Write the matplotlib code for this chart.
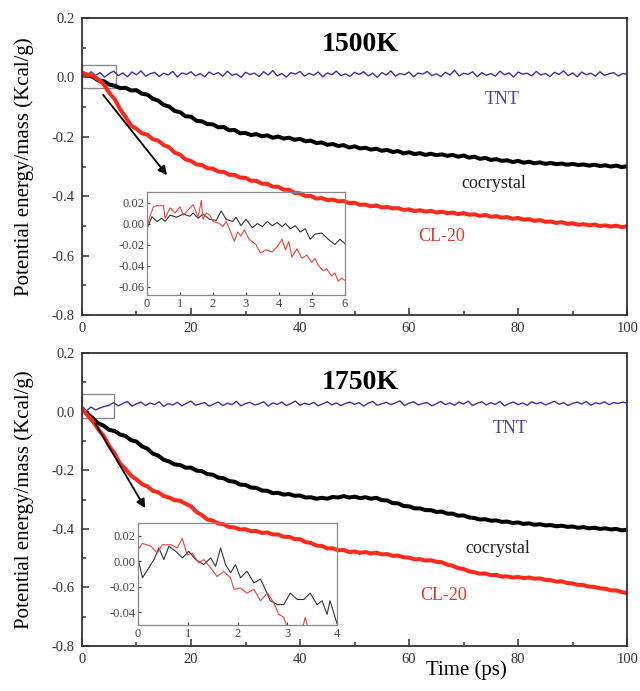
import numpy as np
import matplotlib
matplotlib.use('Agg')
import matplotlib.pyplot as plt
from matplotlib.patches import Rectangle

plt.rcParams['font.family'] = ['Liberation Serif', 'DejaVu Serif']

# ---- 1500 K, main curves (Kcal/g vs ps) ----
tnt_1500 = [0.014, 0.004, 0.019, 0.007, 0.016, 0.001, 0.013, 0.021, 0.006, 0.015,
            0.002, 0.018, 0.009, 0.022, 0.004, 0.012, 0.017, 0.003, 0.014, 0.008,
            0.020, 0.001, 0.015, 0.010, 0.019, 0.005, 0.013, 0.002, 0.018, 0.009,
            0.016, 0.004, 0.021, 0.007, 0.012, 0.000, 0.017, 0.010, 0.014, 0.003,
            0.019, 0.008, 0.023, 0.005, 0.013, 0.001, 0.016, 0.011, 0.020, 0.004,
            0.014, 0.007, 0.018, 0.002, 0.015, 0.009, 0.021, 0.006, 0.012, 0.003,
            0.017, 0.010, 0.019, 0.005, 0.014, 0.000, 0.016, 0.008, 0.022, 0.004,
            0.013, 0.009, 0.018, 0.002, 0.015, 0.011, 0.020, 0.006, 0.012, 0.003,
            0.017, 0.008, 0.024, 0.005, 0.014, 0.010, 0.019, 0.002, 0.016, 0.007,
            0.013, 0.004, 0.021, 0.009, 0.015, 0.001, 0.018, 0.011, 0.014, 0.005,
            0.020, 0.008, 0.013, 0.003, 0.017, 0.010, 0.022, 0.006, 0.015, 0.002,
            0.018, 0.009, 0.014, 0.004, 0.019, 0.007, 0.012, 0.016, 0.005, 0.013,
            0.010]
cocrystal_1500 = [0.016, 0.007, 0.002, -0.010, -0.013, -0.024, -0.028, -0.036, -0.035, -0.044,
                  -0.043, -0.055, -0.058, -0.072, -0.078, -0.093, -0.098, -0.113, -0.117, -0.131,
                  -0.132, -0.146, -0.148, -0.157, -0.158, -0.168, -0.167, -0.178, -0.177, -0.188,
                  -0.187, -0.194, -0.191, -0.198, -0.195, -0.203, -0.199, -0.206, -0.203, -0.210,
                  -0.207, -0.215, -0.213, -0.221, -0.219, -0.227, -0.224, -0.231, -0.228, -0.236,
                  -0.232, -0.239, -0.237, -0.243, -0.240, -0.247, -0.244, -0.251, -0.248, -0.256,
                  -0.252, -0.258, -0.255, -0.261, -0.257, -0.262, -0.259, -0.264, -0.261, -0.267,
                  -0.263, -0.270, -0.267, -0.274, -0.271, -0.278, -0.275, -0.281, -0.279, -0.285,
                  -0.281, -0.287, -0.284, -0.289, -0.286, -0.291, -0.288, -0.292, -0.290, -0.294,
                  -0.291, -0.295, -0.293, -0.297, -0.294, -0.298, -0.296, -0.300, -0.297, -0.302,
                  -0.299]
cl20_1500 = [0.016, 0.008, 0.006, -0.007, -0.023, -0.052, -0.073, -0.107, -0.133, -0.162,
             -0.173, -0.188, -0.193, -0.208, -0.213, -0.228, -0.235, -0.253, -0.260, -0.276,
             -0.281, -0.293, -0.295, -0.306, -0.307, -0.317, -0.318, -0.328, -0.328, -0.337,
             -0.338, -0.348, -0.348, -0.358, -0.358, -0.368, -0.368, -0.378, -0.378, -0.389,
             -0.390, -0.400, -0.399, -0.408, -0.406, -0.413, -0.411, -0.417, -0.416, -0.423,
             -0.422, -0.429, -0.428, -0.434, -0.431, -0.438, -0.436, -0.441, -0.440, -0.446,
             -0.444, -0.450, -0.447, -0.452, -0.449, -0.455, -0.452, -0.457, -0.455, -0.460,
             -0.457, -0.462, -0.461, -0.466, -0.463, -0.469, -0.467, -0.472, -0.470, -0.476,
             -0.473, -0.479, -0.477, -0.483, -0.480, -0.486, -0.485, -0.490, -0.487, -0.493,
             -0.491, -0.496, -0.494, -0.498, -0.495, -0.500, -0.498, -0.502, -0.499, -0.504,
             -0.501]

# ---- 1750 K, main curves ----
tnt_1750 = [0.010, 0.003, 0.016, 0.006, 0.013, 0.018, 0.022, 0.031, 0.020, 0.028,
            0.035, 0.019, 0.027, 0.033, 0.021, 0.030, 0.024, 0.034, 0.018, 0.028,
            0.023, 0.032, 0.020, 0.029, 0.036, 0.022, 0.027, 0.031, 0.019, 0.026,
            0.033, 0.021, 0.029, 0.024, 0.035, 0.020, 0.028, 0.032, 0.023, 0.027,
            0.034, 0.019, 0.030, 0.025, 0.033, 0.021, 0.028, 0.036, 0.022, 0.029,
            0.024, 0.032, 0.020, 0.027, 0.034, 0.023, 0.030, 0.021, 0.028, 0.033,
            0.025, 0.031, 0.019, 0.029, 0.035, 0.022, 0.027, 0.032, 0.024, 0.030,
            0.037, 0.021, 0.029, 0.034, 0.023, 0.028, 0.031, 0.020, 0.027, 0.035,
            0.024, 0.030, 0.022, 0.033, 0.026, 0.036, 0.021, 0.029, 0.034, 0.023,
            0.031, 0.025, 0.035, 0.020, 0.028, 0.033, 0.024, 0.030, 0.022, 0.034,
            0.027, 0.032, 0.023, 0.029, 0.036, 0.025, 0.031, 0.021, 0.028, 0.033,
            0.026, 0.035, 0.022, 0.030, 0.027, 0.034, 0.024, 0.031, 0.028, 0.033,
            0.029]
cocrystal_1750 = [0.012, -0.006, -0.023, -0.040, -0.048, -0.062, -0.066, -0.078, -0.083, -0.097,
                  -0.102, -0.118, -0.126, -0.143, -0.150, -0.164, -0.170, -0.180, -0.182, -0.191,
                  -0.191, -0.201, -0.203, -0.213, -0.215, -0.225, -0.227, -0.237, -0.239, -0.249,
                  -0.250, -0.259, -0.260, -0.269, -0.270, -0.278, -0.277, -0.283, -0.281, -0.287,
                  -0.286, -0.293, -0.292, -0.297, -0.294, -0.297, -0.291, -0.293, -0.288, -0.293,
                  -0.290, -0.295, -0.292, -0.297, -0.294, -0.302, -0.303, -0.312, -0.313, -0.322,
                  -0.323, -0.330, -0.330, -0.336, -0.336, -0.342, -0.341, -0.348, -0.348, -0.355,
                  -0.354, -0.361, -0.363, -0.368, -0.367, -0.372, -0.371, -0.376, -0.375, -0.380,
                  -0.378, -0.383, -0.381, -0.386, -0.384, -0.388, -0.387, -0.391, -0.389, -0.393,
                  -0.392, -0.396, -0.394, -0.398, -0.396, -0.400, -0.398, -0.402, -0.400, -0.405,
                  -0.403]
cl20_1750 = [0.011, -0.012, -0.033, -0.060, -0.083, -0.117, -0.143, -0.177, -0.196, -0.218,
             -0.231, -0.247, -0.255, -0.270, -0.275, -0.288, -0.293, -0.302, -0.304, -0.314,
             -0.323, -0.342, -0.353, -0.368, -0.372, -0.382, -0.384, -0.394, -0.395, -0.402,
             -0.401, -0.408, -0.407, -0.414, -0.412, -0.419, -0.419, -0.427, -0.427, -0.435,
             -0.435, -0.445, -0.448, -0.457, -0.458, -0.467, -0.466, -0.473, -0.472, -0.479,
             -0.477, -0.482, -0.479, -0.484, -0.481, -0.487, -0.486, -0.492, -0.491, -0.497,
             -0.498, -0.504, -0.503, -0.508, -0.507, -0.512, -0.514, -0.522, -0.526, -0.534,
             -0.537, -0.545, -0.548, -0.553, -0.552, -0.558, -0.557, -0.563, -0.562, -0.566,
             -0.564, -0.568, -0.566, -0.570, -0.569, -0.574, -0.575, -0.580, -0.579, -0.585,
             -0.586, -0.591, -0.592, -0.597, -0.598, -0.603, -0.604, -0.610, -0.610, -0.616,
             -0.619]

# ---- insets: first picoseconds ----
ins1_x_cl20 = [0.0, 0.1, 0.2, 0.3, 0.5, 0.55, 0.7, 0.85, 1.0, 1.1, 1.25, 1.4, 1.5, 1.55, 1.65,
               1.7, 1.8, 1.9, 2.0, 2.2, 2.3, 2.4, 2.5, 2.65, 2.75, 2.85, 2.95, 3.1, 3.3, 3.45,
               3.6, 3.8, 3.95, 4.1, 4.2, 4.3, 4.4, 4.55, 4.7, 4.85, 5.0, 5.1, 5.2, 5.35, 5.45,
               5.6, 5.7, 5.8, 5.9, 6.0]
ins1_y_cl20 = [-0.003, 0.008, 0.016, 0.017, 0.017, 0.005, 0.015, 0.010, 0.016, 0.008, 0.013,
               0.018, 0.010, 0.006, 0.022, 0.004, 0.010, 0.008, 0.002, 0.000, -0.003, 0.002,
               -0.005, -0.017, -0.008, -0.012, -0.006, -0.015, -0.020, -0.028, -0.025, -0.027,
               -0.022, -0.015, -0.025, -0.017, -0.032, -0.024, -0.033, -0.030, -0.037, -0.033,
               -0.040, -0.045, -0.043, -0.050, -0.047, -0.055, -0.052, -0.054]
ins1_x_co = [0.0, 0.15, 0.3, 0.45, 0.55, 0.7, 0.9, 1.1, 1.3, 1.4, 1.55, 1.7, 1.9, 2.1, 2.25,
             2.4, 2.6, 2.7, 2.85, 3.0, 3.2, 3.35, 3.5, 3.65, 3.8, 3.95, 4.1, 4.2, 4.35, 4.5,
             4.65, 4.8, 4.95, 5.1, 5.3, 5.5, 5.7, 5.85, 6.0]
ins1_y_co = [-0.005, 0.0065, 0.002, 0.005, 0.002, 0.008, 0.006, 0.009, 0.007, 0.010, 0.005,
             0.009, 0.004, 0.003, 0.012, 0.004, 0.002, 0.006, -0.002, 0.004, -0.004, 0.000,
             -0.003, 0.002, -0.002, 0.001, -0.003, 0.000, -0.005, -0.002, -0.008, -0.005,
             -0.015, -0.010, -0.009, -0.015, -0.020, -0.015, -0.019]

ins2_x_cl20 = [0.0, 0.09, 0.25, 0.39, 0.49, 0.66, 0.79, 0.89, 0.99, 1.09, 1.22, 1.32, 1.46,
               1.59, 1.72, 1.86, 1.93, 2.06, 2.19, 2.33, 2.46, 2.6, 2.73, 2.83, 2.93, 3.0,
               3.15, 3.3, 3.36, 3.45, 3.6, 3.8, 4.0]
ins2_y_cl20 = [0.009, 0.014, 0.012, 0.0065, 0.013, 0.013, 0.0104, 0.018, 0.005, 0.0065,
               -0.0013, 0.0013, -0.005, -0.012, -0.008, -0.013, -0.022, -0.021, -0.025,
               -0.022, -0.031, -0.025, -0.0325, -0.0416, -0.044, -0.052, -0.056, -0.054,
               -0.044, -0.057, -0.055, -0.058, -0.056]
ins2_x_co = [0.0, 0.09, 0.22, 0.32, 0.42, 0.52, 0.62, 0.76, 0.89, 1.02, 1.16, 1.32, 1.46,
             1.56, 1.66, 1.76, 1.86, 1.96, 2.06, 2.19, 2.33, 2.46, 2.53, 2.66, 2.8, 2.93,
             3.06, 3.2, 3.33, 3.46, 3.6, 3.7, 3.8, 3.86, 4.0]
ins2_y_co = [0.0026, -0.013, -0.005, 0.0013, 0.0104, 0.0013, 0.0117, 0.0078, 0.0026, 0.0078,
             0.0013, -0.0026, 0.0026, -0.004, 0.0104, -0.0026, -0.009, -0.0026, -0.013,
             -0.0078, -0.017, -0.014, -0.0195, -0.031, -0.034, -0.034, -0.025, -0.030,
             -0.030, -0.025, -0.034, -0.031, -0.0416, -0.031, -0.049]

TNT_COLOR = '#3535a5'
RED = '#ff2a1c'
SPINE = '#333333'


def style_main(ax):
    ax.set_xlim(0, 100)
    ax.set_ylim(-0.8, 0.2)
    ax.set_xticks([0, 20, 40, 60, 80, 100])
    ax.set_xticks([10, 30, 50, 70, 90], minor=True)
    ax.set_yticks([-0.8, -0.6, -0.4, -0.2, 0.0, 0.2])
    ax.set_yticks([-0.7, -0.5, -0.3, -0.1, 0.1], minor=True)
    ax.set_yticklabels(['-0.8', '-0.6', '-0.4', '-0.2', '0.0', '0.2'])
    ax.tick_params(which='both', direction='in', colors=SPINE, labelsize=10.5,
                   top=False, right=False, width=1.1)
    ax.tick_params(which='major', length=5, pad=5)
    ax.tick_params(which='minor', length=3)
    for s in ax.spines.values():
        s.set_color(SPINE)
        s.set_linewidth(1.3)
    ax.set_ylabel('Potential energy/mass (Kcal/g)', fontsize=15)
    ax.yaxis.set_label_coords(-0.088, 0.5)


def style_inset(ax, xmax, ylo, yticks):
    ax.set_facecolor('none')
    ax.set_xlim(0, xmax)
    ax.set_ylim(ylo, 0.03)
    ax.set_xticks(range(0, xmax + 1))
    ax.set_yticks(yticks)
    ax.set_yticklabels(['%.2f' % v for v in yticks])
    ax.tick_params(direction='in', labelsize=9, length=2.5, colors='#444444',
                   top=False, right=False, pad=2)
    for s in ax.spines.values():
        s.set_color('#888888')
        s.set_linewidth(0.9)


fig = plt.figure(figsize=(6.4, 6.91), dpi=100)
ax1 = fig.add_axes([0.128, 0.544, 0.852, 0.430])
ax2 = fig.add_axes([0.128, 0.065, 0.852, 0.424])

panels = [
    (ax1, tnt_1500, cocrystal_1500, cl20_1500),
    (ax2, tnt_1750, cocrystal_1750, cl20_1750),
]
for ax, tnt, co, cl in panels:
    ax.plot(np.linspace(0, 100, len(tnt)), tnt, color=TNT_COLOR, lw=1.0)
    ax.plot(np.linspace(0, 100, len(co)), co, color='black', lw=2.9)
    ax.plot(np.linspace(0, 100, len(cl)), cl, color=RED, lw=2.9)
    style_main(ax)

# labels and titles
ax1.text(51, 0.112, '1500K', fontsize=20, fontweight='bold', ha='center', va='center')
ax1.text(77, -0.076, 'TNT', fontsize=13, color='#4a4a90', ha='center', va='center')
ax1.text(75.5, -0.356, 'cocrystal', fontsize=13, color='#222222', ha='center', va='center')
ax1.text(66, -0.537, 'CL-20', fontsize=13, color='#e03a30', ha='center', va='center')

ax2.text(51, 0.098, '1750K', fontsize=20, fontweight='bold', ha='center', va='center')
ax2.text(78.5, -0.056, 'TNT', fontsize=13, color='#4a4a90', ha='center', va='center')
ax2.text(76.3, -0.466, 'cocrystal', fontsize=13, color='#222222', ha='center', va='center')
ax2.text(66.3, -0.626, 'CL-20', fontsize=13, color='#e03a30', ha='center', va='center')

ax2.set_xlabel('Time (ps)', fontsize=15)
ax2.xaxis.set_label_coords(0.705, -0.05)

# zoom boxes and arrows
ax1.add_patch(Rectangle((0, -0.036), 6.3, 0.078, fill=False, ec='#888888', lw=1.0))
ax2.add_patch(Rectangle((0, -0.022), 5.9, 0.082, fill=False, ec='#888888', lw=1.0))
arrow = dict(arrowstyle='-|>', color='black', lw=1.3, mutation_scale=13, shrinkA=0, shrinkB=0)
ax1.annotate('', xy=(15.6, -0.329), xytext=(3.9, -0.059), arrowprops=arrow)
ax2.annotate('', xy=(11.6, -0.329), xytext=(2.4, -0.039), arrowprops=arrow)

# insets
in1 = fig.add_axes([0.2297, 0.5731, 0.309, 0.149])
in1.plot(ins1_x_co, ins1_y_co, color='#333333', lw=0.8)
in1.plot(ins1_x_cl20, ins1_y_cl20, color='#e8463c', lw=0.8)
style_inset(in1, 6, -0.068, [-0.06, -0.04, -0.02, 0.00, 0.02])

in2 = fig.add_axes([0.2156, 0.0955, 0.311, 0.1476])
in2.plot(ins2_x_co, ins2_y_co, color='#333333', lw=0.8)
in2.plot(ins2_x_cl20, ins2_y_cl20, color='#e8463c', lw=0.8)
style_inset(in2, 4, -0.05, [-0.04, -0.02, 0.00, 0.02])

fig.savefig('out.png', dpi=100)
